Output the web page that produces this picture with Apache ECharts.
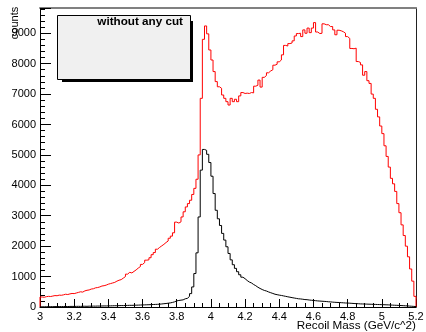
<!DOCTYPE html>
<html>
<head>
<meta charset="utf-8">
<script src="https://cdn.jsdelivr.net/npm/echarts@6.0.0/dist/echarts.min.js"></script>
<style>
html,body{margin:0;padding:0;background:#fff;}
#chart{width:426px;height:332px;}
</style>
</head>
<body>
<div id="chart"></div>
<script>
// Histogram binning (x axis: Recoil Mass, GeV/c^2)
const binLow = 3.0;
const binWidth = 0.0125;
const xTickValues = [3, 3.2, 3.4, 3.6, 3.8, 4, 4.2, 4.4, 4.6, 4.8, 5, 5.2];
const yTickValues = [0, 1000, 2000, 3000, 4000, 5000, 6000, 7000, 8000, 9000];

// "without any cut" (red) bin contents
const redCounts = [
  330, 320, 340, 350, 345, 360, 375, 370, 390, 385, 400, 420, 410, 430, 445, 440,
  460, 480, 500, 490, 530, 550, 560, 590, 600, 630, 640, 660, 690, 700, 720, 750,
  770, 790, 810, 850, 880, 900, 950, 1000,
  1080, 1140, 1120, 1170, 1220, 1280, 1330, 1400,
  1460, 1540, 1550, 1620, 1720, 1790, 1900, 1960,
  2010, 2060, 2120, 2170, 2260, 2330, 2440, 2790,
  2760, 2800, 2960, 3130, 3290, 3400, 3510, 3700,
  3900, 4200, 5000, 6860, 8800, 9240, 8980, 8450,
  8120, 7740, 7410, 7240, 7190, 6970, 6860, 6750, 6640, 6860,
  6750, 6830, 6750, 6940, 7050, 7020, 7030, 7020, 7050, 7040,
  7260, 7290, 7460, 7230, 7550, 7610, 7700, 7760, 7800, 7950,
  7980, 8060, 8120, 8290, 8600, 8580, 8660, 8680, 8750, 8910,
  8990, 9000, 8890, 9110, 9000, 9170, 9020, 9170, 9350, 9040,
  8990, 9000, 9310, 9280, 9280, 9220, 9220, 9110, 8950, 9100,
  9080, 9050, 9000, 8890, 8830, 8500, 8490, 8510, 8070, 8040,
  7960, 7620, 7740, 7440, 7350, 7000, 6860, 6500, 6250, 5950,
  5700, 5300, 4950, 4600, 4230, 4050, 3800, 3400, 3100, 2700,
  2350, 2000, 1650, 1250, 850, 350
];

// second (black) histogram bin contents
const blackCounts = [
  8, 6, 10, 9, 12, 10, 14, 12, 15, 13, 16, 18, 15, 19, 20, 18,
  21, 22, 20, 24, 25, 23, 27, 26, 29, 28, 31, 30, 33, 35, 34, 37,
  38, 40, 42, 41, 45, 47, 46, 50,
  52, 55, 54, 58, 60, 62, 65, 68,
  70, 73, 75, 78, 82, 85, 88, 92,
  100, 108, 115, 125, 135, 150, 170, 200,
  215, 225, 235, 270, 285, 350, 440, 660,
  1100, 1780, 2960, 4500, 5180, 5150, 5020, 4750,
  4300, 3730, 3180, 2900, 2680, 2420, 2200, 1980, 1760, 1550,
  1390, 1270, 1160, 1060, 980, 930, 870, 820, 790, 740,
  700, 650, 610, 575, 545, 525, 495, 470, 445, 420,
  405, 390, 380, 365, 350, 335, 322, 308, 295, 283,
  270, 265, 255, 245, 240, 230, 222, 215, 208, 200,
  195, 190, 185, 180, 172, 168, 160, 155, 150, 148,
  142, 138, 132, 130, 125, 120, 115, 110, 108, 102,
  100, 98, 95, 92, 90, 87, 85, 82, 80, 78,
  75, 72, 70, 66, 62, 58, 55, 52, 48, 44,
  40, 36, 30, 25, 20, 14
];

const legendTitle = 'without any cut';
const xTitle = 'Recoil Mass (GeV/c^2)';
const yTitle = 'counts';

function histOutline(counts) {
  const pts = [[binLow, 0]];
  counts.forEach((v, i) => pts.push([binLow + i * binWidth, v]));
  pts.push([binLow + counts.length * binWidth, 0]);
  return pts;
}

const FONT = 'Liberation Sans, Arial, Helvetica, sans-serif';
const xMin = xTickValues[0], xMax = xTickValues[xTickValues.length - 1];
const yMax = 9830;

const chart = echarts.init(document.getElementById('chart'), null, {renderer: 'canvas', width: 426, height: 332});
chart.setOption({
  animation: false,
  backgroundColor: '#ffffff',
  grid: {left: 40, right: 10, top: 8, bottom: 25, containLabel: false, outerBoundsMode: 'none'},
  xAxis: [{
    type: 'value', min: xMin, max: xMax, interval: 0.2,
    axisLine: {show: true, onZero: false, lineStyle: {color: '#000', width: 1}},
    axisTick: {show: true, inside: true, length: 8, lineStyle: {color: '#000'}},
    minorTick: {show: true, splitNumber: 4, length: 4, lineStyle: {color: '#000'}},
    axisLabel: {fontFamily: FONT, fontSize: 11, color: '#000', margin: 4, interval: 0,
      formatter: v => String(Math.round(v * 10) / 10)},
    splitLine: {show: false}
  }, {
    type: 'value', position: 'top', min: xMin, max: xMax,
    axisLine: {show: true, onZero: false, lineStyle: {color: '#808080', width: 2}},
    axisTick: {show: false}, axisLabel: {show: false}, splitLine: {show: false}
  }],
  yAxis: [{
    type: 'value', min: 0, max: yMax, interval: 1000,
    axisLine: {show: true, onZero: false, lineStyle: {color: '#000', width: 1}},
    axisTick: {show: true, inside: true, length: 11, lineStyle: {color: '#000'}},
    minorTick: {show: true, splitNumber: 5, length: 5, lineStyle: {color: '#000'}},
    axisLabel: {fontFamily: FONT, fontSize: 11, color: '#000', margin: 4, showMaxLabel: false,
      formatter: v => yTickValues.indexOf(v) >= 0 ? String(v) : ''},
    splitLine: {show: false}
  }, {
    type: 'value', position: 'right', min: 0, max: yMax,
    axisLine: {show: true, onZero: false, lineStyle: {color: '#222', width: 1}},
    axisTick: {show: false}, axisLabel: {show: false}, splitLine: {show: false}
  }],
  series: [{
    type: 'line', name: 'without any cut', step: 'end',
    data: histOutline(redCounts), showSymbol: false, symbol: 'none',
    lineStyle: {color: '#ff0000', width: 1}, z: 3
  }, {
    type: 'line', name: 'black', step: 'end',
    data: histOutline(blackCounts), showSymbol: false, symbol: 'none',
    lineStyle: {color: '#000000', width: 1}, z: 4
  }],
  graphic: [{
    type: 'rect', left: 62, top: 21, z: 10,
    shape: {width: 131, height: 61},
    style: {fill: '#000', stroke: null}
  }, {
    type: 'rect', left: 57, top: 15, z: 11,
    shape: {width: 133, height: 64},
    style: {fill: '#f0f0f0', stroke: '#000', lineWidth: 1}
  }, {
    type: 'text', right: 243, top: 16, z: 12,
    style: {text: legendTitle, font: 'bold 11.7px ' + FONT, fill: '#000'}
  }, {
    type: 'text', x: 14.7, y: 23, rotation: Math.PI / 2, z: 12,
    style: {text: yTitle, font: '11px ' + FONT, fill: '#000', align: 'center', verticalAlign: 'middle'}
  }, {
    type: 'text', right: 10, top: 320, z: 12,
    style: {text: xTitle, font: '11.7px ' + FONT, fill: '#000'}
  }]
});
</script>
</body>
</html>
